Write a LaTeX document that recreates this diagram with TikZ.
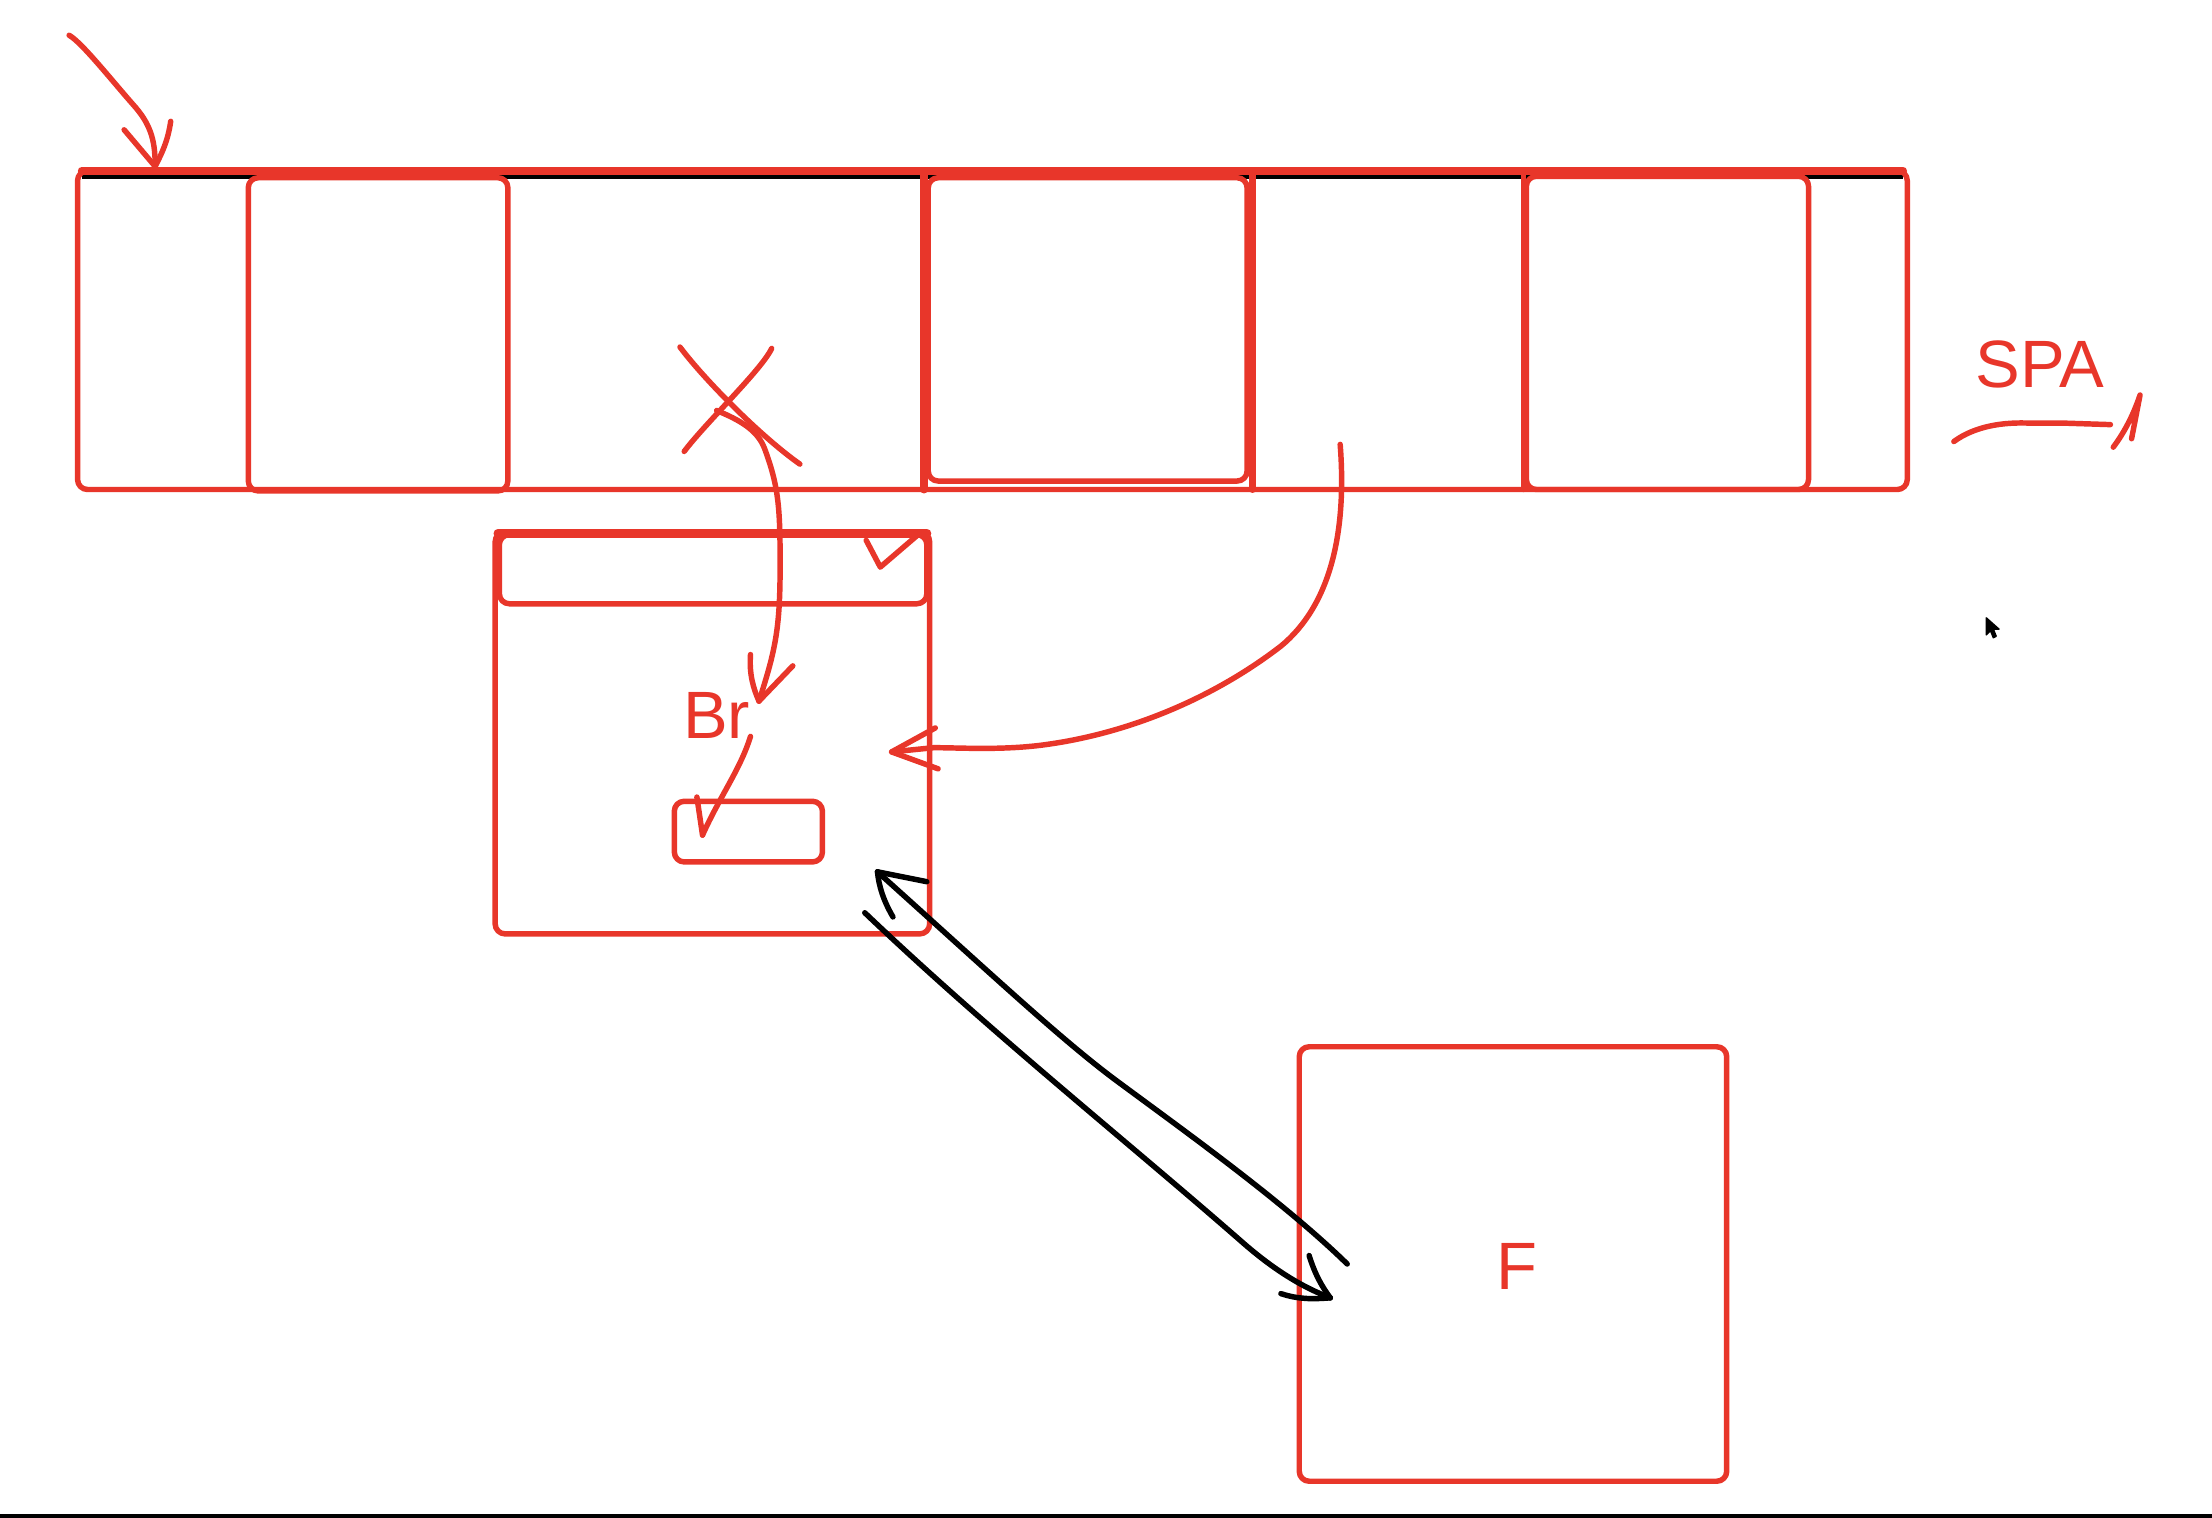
\documentclass[tikz,border=0pt]{standalone}
\usepackage{fontspec}
\setmainfont{Liberation Sans}
\definecolor{pen}{RGB}{232,54,42}
\begin{document}
\begin{tikzpicture}[x=0.01cm,y=-0.01cm,
  redline/.style={draw=pen,line width=1.1pt,line cap=round,line join=round},
  blackline/.style={draw=black,line width=1.1pt,line cap=round,line join=round},
  box/.style={redline,rounded corners=2pt},
  lbl/.style={text=pen,font=\fontsize{13.5}{15}\selectfont,inner sep=0pt}]
\useasboundingbox (0,0) rectangle (1568,1076);
\fill[white] (0,0) rectangle (1568,1076);
% bottom edge line
\fill[black] (0,1073.5) rectangle (1568,1076);

% ---- strip ----
\draw[black,line width=1.1pt] (58,125) -- (1349,125);
\draw[box] (55,121) rectangle (1352,347);
\draw[redline,line width=1.6pt] (58,121) -- (1349,121);
\draw[box] (176,126) rectangle (360,348);
\draw[redline,line width=1.6pt] (655,123) -- (655,347);
\draw[box] (658,126) rectangle (884,341);
\draw[redline,line width=1.4pt] (888,123) -- (888,347);
\draw[redline] (1080,123) -- (1080,347);
\draw[box] (1082,125) rectangle (1282,347);
\coordinate (stripTop) at (110,118);

% top-left arrow
\coordinate (tlStart) at (49,25);
\draw[redline] (tlStart) .. controls (58,30) and (80,58) .. (96,76)
   .. controls (108,90) and (110,102) .. (stripTop);
\draw[redline] (88,92) -- (stripTop);
\draw[redline] (121,86) .. controls (119,100) and (115,108) .. (stripTop);

% ---- X mark and arrow into window ----
\draw[redline] (482,246) .. controls (500,270) and (540,310) .. (567,329);
\draw[redline] (547,247) .. controls (540,262) and (500,300) .. (485,320);
\coordinate (xStart) at (508,291);
\coordinate (brTip) at (538,497);
\draw[redline] (xStart) .. controls (525,298) and (537,305) .. (542,318)
   .. controls (552,345) and (553,360) .. (553,400)
   .. controls (553,445) and (550,460) .. (brTip);
\draw[redline] (532,464) .. controls (531,478) and (534,488) .. (brTip);
\draw[redline] (562,472) -- (brTip);

% ---- window box ----
\draw[box] (351,377) rectangle (659,662);
\draw[box] (354,379) rectangle (657,428);
\draw[redline,line width=1.8pt] (353,378) -- (657,378);
\draw[redline] (614,383) -- (624,402) -- (652,378);

\node[lbl] (br) at (508,507) {Br};

% small box and arrow
\draw[box] (478,568) rectangle (583,611);
\coordinate (smallTip) at (498,592);
\draw[redline] (532,522) .. controls (525,545) and (510,565) .. (smallTip);
\draw[redline] (494,565) -- (smallTip);

% big curved arrow from strip to window
\coordinate (curveStart) at (950,315);
\coordinate (winTip) at (632,533);
\draw[redline] (curveStart) .. controls (955,380) and (942,430) .. (908,458)
   .. controls (860,495) and (800,520) .. (740,528)
   .. controls (710,532) and (680,530) .. (662,530) -- (winTip);
\draw[redline] (663,516) -- (winTip) -- (665,545);

% ---- F box ----
\draw[box] (921,742) rectangle (1224,1050);
\node[lbl] (f) at (1075,898) {F};

% ---- black double arrow ----
\coordinate (upTip) at (622,618);
\coordinate (downTip) at (943,920);
\draw[blackline] (upTip) .. controls (700,688) and (750,735) .. (790,765)
   .. controls (840,802) and (910,852) .. (955,896);
\draw[blackline] (657,625) -- (upTip);
\draw[blackline] (633,650) .. controls (626,638) and (623,628) .. (upTip);
\draw[blackline] (613,647) .. controls (700,730) and (800,810) .. (880,880)
   .. controls (905,902) and (925,913) .. (downTip);
\draw[blackline] (928,890) .. controls (932,903) and (937,912) .. (downTip);
\draw[blackline] (908,917) .. controls (920,921) and (930,921) .. (downTip);

% ---- SPA ----
\node[lbl] (spa) at (1446,258) {SPA};
\draw[redline] (1385,313) .. controls (1400,302) and (1420,299) .. (1440,300)
   -- (1465,300) -- (1496,301);
\coordinate (spaTip) at (1517,280);
\draw[redline] (1498,317) .. controls (1507,305) and (1513,292) .. (spaTip) -- (1511,311);

% mouse cursor
\filldraw[black,line width=0.3pt,line join=round] (1408,438) -- (1408,450) -- (1411,447) -- (1413,452) -- (1415,451) -- (1413,446) -- (1417,446) -- cycle;
\end{tikzpicture}
\end{document}
